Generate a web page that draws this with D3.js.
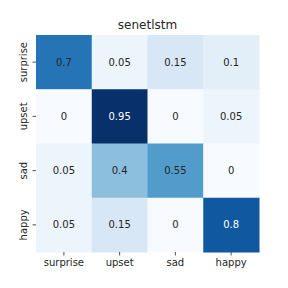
<!DOCTYPE html>
<html>
<head>
<meta charset="utf-8">
<script src="https://cdn.jsdelivr.net/npm/d3@7"></script>
<style>
  body { margin: 0; background: #fff; }
  text { font-family: "DejaVu Sans", sans-serif; }
</style>
</head>
<body>
<script>
// confusion matrix data
var labels = ['surprise', 'upset', 'sad', 'happy'];
var matrix = [
  [0.7,  0.05, 0.15, 0.1 ],
  [0,    0.95, 0,    0.05],
  [0.05, 0.4,  0.55, 0   ],
  [0.05, 0.15, 0,    0.8 ]
];
var title = 'senetlstm';

var width  = 288;
var height = 288;
var margin = { top: 35, bottom: 36, left: 36, right: 29 };
var innerW = width - margin.left - margin.right;
var innerH = height - margin.top - margin.bottom;

var svg = d3.select('body')
  .append('svg')
    .attr('width', width)
    .attr('height', height);

var g = svg.append('g')
    .attr('transform', 'translate(' + margin.left + ',' + margin.top + ')');

var xScale = d3.scaleBand().domain(labels).range([0, innerW]);
var yScale = d3.scaleBand().domain(labels).range([0, innerH]);
var color  = d3.scaleSequential(d3.interpolateBlues).domain([0, 0.95]);

var cells = [];
matrix.forEach(function (row, i) {
  row.forEach(function (v, j) {
    cells.push({ row: labels[i], col: labels[j], value: v });
  });
});

g.selectAll('rect.cell')
  .data(cells)
  .enter().append('rect')
    .attr('class', 'cell')
    .attr('x', function (d) { return xScale(d.col); })
    .attr('y', function (d) { return yScale(d.row); })
    .attr('width', xScale.bandwidth() + 0.5)
    .attr('height', yScale.bandwidth() + 0.5)
    .attr('fill', function (d) { return color(d.value); });

g.selectAll('text.annot')
  .data(cells)
  .enter().append('text')
    .attr('class', 'annot')
    .attr('x', function (d) { return xScale(d.col) + xScale.bandwidth() / 2; })
    .attr('y', function (d) { return yScale(d.row) + yScale.bandwidth() / 2; })
    .attr('text-anchor', 'middle')
    .attr('dy', '0.36em')
    .style('font-size', '10px')
    .attr('fill', function (d) {
      var c = d3.rgb(color(d.value));
      var lum = 0.2126 * c.r + 0.7152 * c.g + 0.0722 * c.b;
      return lum < 102 ? '#ffffff' : '#262626';
    })
    .text(function (d) { return d.value; });

// axes
var xAxis = g.append('g')
    .attr('transform', 'translate(0,' + innerH + ')')
    .call(d3.axisBottom(xScale).tickSize(3.5).tickPadding(3.5));
var yAxis = g.append('g')
    .call(d3.axisLeft(yScale).tickSize(3.5).tickPadding(3.5));

[xAxis, yAxis].forEach(function (a) {
  a.select('.domain').remove();
  a.selectAll('.tick line').attr('stroke', '#262626').attr('stroke-width', 0.8);
  a.selectAll('.tick text')
    .attr('fill', '#262626')
    .style('font-size', '10px')
    .style('font-family', '"DejaVu Sans", sans-serif');
});

yAxis.selectAll('.tick text')
    .attr('transform', 'rotate(-90)')
    .attr('x', 0)
    .attr('y', -9.5)
    .attr('dy', 0)
    .attr('text-anchor', 'middle');

svg.append('text')
    .attr('x', margin.left + innerW / 2)
    .attr('y', 29)
    .attr('text-anchor', 'middle')
    .style('font-size', '12px')
    .attr('fill', '#262626')
    .text(title);
</script>
</body>
</html>
